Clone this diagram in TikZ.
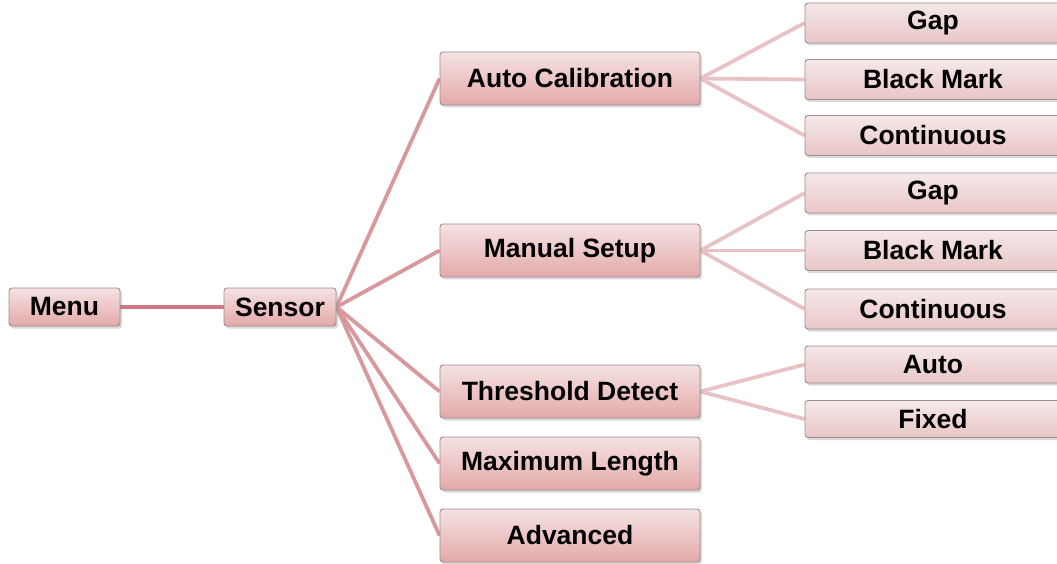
\documentclass[tikz,border=0pt]{standalone}
\usepackage{fontspec}
\setmainfont{Liberation Sans}
\usetikzlibrary{shadows,backgrounds}
\definecolor{boxtopA}{HTML}{F5E2E2}
\definecolor{boxbotA}{HTML}{E4A9AA}
\definecolor{boxtopB}{HTML}{F5E8E8}
\definecolor{boxbotB}{HTML}{E9C6C7}
\definecolor{boxedge}{HTML}{9C8C8C}
\definecolor{lineA}{HTML}{D7999C}
\definecolor{lineB}{HTML}{E8C3C5}
\definecolor{lineM}{HTML}{D07880}
\tikzset{
  mbox/.style={draw=boxedge, line width=0.9pt, rounded corners=3pt,
    top color=boxtopA, bottom color=boxbotA,
    drop shadow={opacity=0.3, shadow xshift=2pt, shadow yshift=-2.5pt},
    font=\fontsize{26.5}{30}\selectfont\bfseries, text=black,
    inner sep=0pt, anchor=center},
  lboxA/.style={mbox, minimum width=260pt, minimum height=53pt},
  lboxB/.style={mbox, top color=boxtopB, bottom color=boxbotB,
    minimum width=256pt, minimum height=40pt},
  linkA/.style={draw=lineA, line width=3.8pt},
  linkB/.style={draw=lineB, line width=3.8pt},
  linkM/.style={draw=lineM, line width=3.2pt},
}
\begin{document}
\begin{tikzpicture}[x=1pt,y=1pt]
\useasboundingbox (0,0) rectangle (1057,563);
% level 0/1
\node[mbox, minimum width=111pt, minimum height=38pt] (menu) at (64.5,256) {Menu};
\node[mbox, minimum width=112pt, minimum height=38pt] (sensor) at (280,256) {Sensor};
% level 2
\node[lboxA] (ac) at (570,484.5) {Auto Calibration};
\node[lboxA] (ms) at (570,312.5) {Manual Setup};
\node[lboxA] (td) at (570,171.5) {Threshold Detect};
\node[lboxA] (ml) at (570,99.5) {Maximum Length};
\node[lboxA] (adv) at (570,27.5) {Advanced};
% level 3
\node[lboxB] (g1) at (933,540) {Gap};
\node[lboxB] (b1) at (933,483.5) {Black Mark};
\node[lboxB] (c1) at (933,427.5) {Continuous};
\node[lboxB] (g2) at (933,370) {Gap};
\node[lboxB] (b2) at (933,312.5) {Black Mark};
\node[lboxB] (c2) at (933,254) {Continuous};
\node[lboxB, minimum height=37pt] (au) at (933,198.5) {Auto};
\node[lboxB, minimum height=37pt] (fx) at (933,144) {Fixed};
% connectors
\begin{scope}[on background layer]
\draw[linkM] (menu.east) -- (sensor.west);
\foreach \c in {ac,ms,td,ml,adv}
  \draw[linkA] (sensor.east) -- (\c.west);
\foreach \c in {g1,b1,c1}
  \draw[linkB] (ac.east) -- (\c.west);
\foreach \c in {g2,b2,c2}
  \draw[linkB] (ms.east) -- (\c.west);
\foreach \c in {au,fx}
  \draw[linkB] (td.east) -- (\c.west);
\end{scope}
\end{tikzpicture}
\end{document}
